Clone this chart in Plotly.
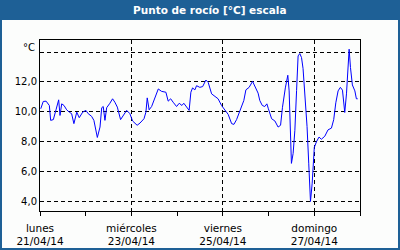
import pandas as pd
import plotly.graph_objects as go

# Hours since 21/04/14 00:00 and dew point values (°C)
hours = [0.4, 1.7, 3.2, 4.9, 5.6, 7.0, 8.4, 9.8, 10.5, 11.4, 12.6, 14.0, 15.4, 16.6, 17.8,
         19.3, 20.6, 22.4, 24.1, 25.3, 27.1, 28.3, 30.1, 31.5, 32.4, 33.2, 34.1, 35.0, 36.7,
         38.1, 39.3, 40.6, 42.3, 44.1, 45.5, 47.2, 48.6, 51.0, 52.5, 54.6, 55.6, 56.3, 57.3,
         58.6, 60.3, 62.1, 63.8, 66.1, 67.3, 68.6, 69.9, 71.7, 73.1, 74.5, 75.5, 77.0, 78.3,
         79.2, 80.1, 81.3, 82.2, 83.9, 85.4, 87.1, 88.3, 90.1, 91.8, 93.5, 95.3, 97.1, 98.8,
         100.6, 101.8, 103.2, 104.6, 105.8, 107.0, 108.1, 109.8, 111.6, 112.8, 114.5, 115.4,
         116.7, 118.0, 119.1, 119.9, 121.6, 123.3, 125.0, 126.3, 127.3, 128.8, 130.1, 130.8,
         131.4, 132.0, 132.9, 133.8, 134.7, 135.5, 136.4, 137.3, 138.1, 139.0, 140.2, 141.1,
         142.0, 142.9, 143.6, 144.0, 145.2, 146.5, 147.7, 149.5, 151.2, 153.0, 154.2, 155.3,
         156.5, 157.7, 158.8, 159.5, 160.0, 160.9, 161.7, 162.3, 163.0, 164.0, 165.3, 166.1,
         166.8]
values = [10.2, 10.69, 10.71, 10.42, 9.42, 9.47, 10.13, 10.8, 9.75, 10.53, 10.42, 10.13, 9.97,
          9.87, 9.2, 9.97, 9.6, 9.97, 10.09, 9.87, 9.69, 9.42, 8.27, 8.97, 10.27, 10.35, 9.42,
          10.27, 10.57, 10.87, 10.64, 10.31, 9.47, 9.87, 10.09, 9.87, 9.38, 9.09, 9.24, 9.53,
          9.97, 10.93, 10.13, 10.35, 10.87, 11.53, 11.37, 11.31, 10.71, 10.87, 10.64, 10.35,
          10.57, 10.42, 10.57, 10.35, 10.09, 11.31, 11.6, 11.47, 11.75, 11.64, 11.69, 12.13,
          11.97, 11.2, 11.02, 10.87, 10.42, 10.09, 9.82, 9.2, 9.15, 9.47, 9.91, 10.31, 10.75,
          11.47, 11.64, 12.04, 11.75, 11.25, 10.75, 10.42, 10.35, 10.53, 10.2, 9.53, 9.38, 8.97,
          9.09, 10.3, 11.6, 12.45, 11.4, 7.8, 6.53, 7.2, 8.75, 11.42, 13.75, 13.91, 13.64, 12.9,
          11.4, 9.0, 6.5, 3.97, 5.2, 7.1, 7.6, 8.0, 8.3, 8.15, 8.35, 8.78, 8.9, 9.47, 10.6, 11.4,
          11.64, 11.45, 10.64, 9.95, 11.2, 13.4, 14.2, 12.97, 11.8, 11.4, 10.87, 10.87]

start = pd.Timestamp("2014-04-21 00:00")
times = [start + pd.Timedelta(hours=h) for h in hours]

x_tick_dates = ["2014-04-21", "2014-04-23", "2014-04-25", "2014-04-27"]
x_tick_text = ["lunes<br>21/04/14", "miércoles<br>23/04/14", "viernes<br>25/04/14", "domingo<br>27/04/14"]
y_tick_vals = [4, 6, 8, 10, 12, 14]
y_tick_text = ["4,0", "6,0", "8,0", "10,0", "12,0", ""]

title_text = "Punto de rocío [°C] escala"
unit_text = "°C"

BLUE = "#1e6096"
BG = "#fcfdfc"
FONT = "DejaVu Sans"
DASH = "4px,3px"

fig = go.Figure()
fig.add_trace(go.Scatter(x=times, y=values, mode="lines",
                         line=dict(color="#0000ff", width=1), hoverinfo="skip"))

W, H = 400, 250
L, R, T, B = 40, 40, 40, 39
pw, ph = W - L - R, H - T - B


def px(x):
    return (x - L) / pw


def py(y):
    return (H - B - y) / ph


fig.update_layout(
    width=W, height=H,
    margin=dict(l=L, r=R, t=T, b=B, autoexpand=False),
    paper_bgcolor=BG, plot_bgcolor=BG,
    showlegend=False,
    font=dict(family=FONT, size=10, color="#000000"),
    shapes=[
        dict(type="rect", xref="paper", yref="paper", x0=px(0), x1=px(400), y0=py(20), y1=py(0),
             fillcolor=BLUE, line=dict(width=0), layer="below"),
        dict(type="rect", xref="paper", yref="paper", x0=px(1), x1=px(399), y0=py(249), y1=py(1),
             line=dict(color=BLUE, width=2), layer="below"),
    ],
    annotations=[
        dict(text="<b>" + title_text + "</b>", xref="paper", yref="paper", x=px(210), y=py(10),
             xanchor="center", yanchor="middle", showarrow=False,
             font=dict(family=FONT, size=10.5, color="#ffffff")),
        dict(text=unit_text, xref="paper", yref="paper", x=0, y=py(47), xanchor="right",
             yanchor="middle", xshift=-3, showarrow=False, font=dict(family=FONT, size=10)),
    ],
)

fig.update_xaxes(
    type="date", range=["2014-04-21", "2014-04-28"], automargin=False,
    tickmode="array", tickvals=x_tick_dates, ticktext=x_tick_text,
    ticks="outside", ticklen=4, tickcolor="#000000", tickwidth=1,
    ticklabelstandoff=3,
    showgrid=True, gridcolor="#000000", gridwidth=1, griddash=DASH,
    showline=True, linecolor="#000000", linewidth=1, mirror=True,
    minor=dict(tickmode="linear", tick0="2014-04-21", dtick=86400000, ticks="outside",
               ticklen=4, tickcolor="#000000", showgrid=False),
    zeroline=False, tickfont=dict(family=FONT, size=10.5),
)
fig.update_yaxes(
    range=[3.33, 14.82], tickmode="array", tickvals=y_tick_vals, ticktext=y_tick_text,
    automargin=False,
    ticks="", showgrid=True, gridcolor="#000000", gridwidth=1, griddash=DASH,
    showline=True, linecolor="#000000", linewidth=1, mirror=True,
    zeroline=False, tickfont=dict(family=FONT, size=10),
)

fig.write_html("out.html")
